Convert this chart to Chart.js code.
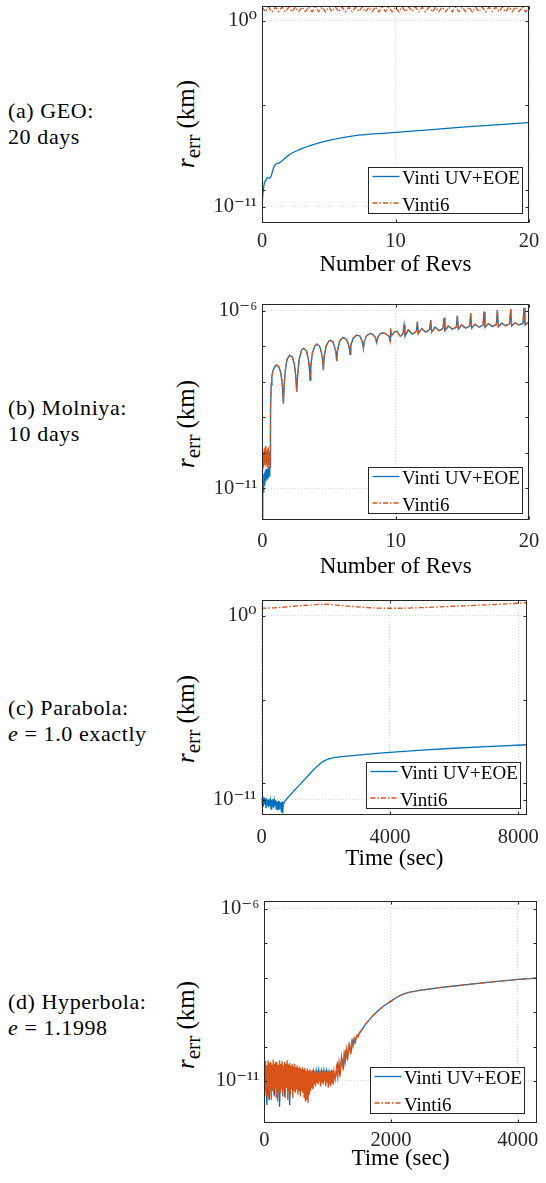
<!DOCTYPE html>
<html>
<head>
<meta charset="utf-8">
<title>Vinti position error</title>
<script src="https://cdn.jsdelivr.net/npm/chart.js@4.4.1/dist/chart.umd.min.js"></script>
<style>
  html, body { margin: 0; padding: 0; background: #fff; }
  body { position: relative; width: 546px; height: 1183px; overflow: hidden; font-family: "Liberation Serif", "DejaVu Serif", serif; }
  canvas { position: absolute; }
  .case { position: absolute; left: 8px; font-size: 22px; line-height: 25.5px; letter-spacing: 0.6px; color: #000; white-space: nowrap; }
  .ytitle { position: absolute; left: 186px; font-size: 25px; color: #000; white-space: nowrap; transform: translate(-50%, -50%) rotate(-90deg); }
  .ytitle sub { font-size: 85%; vertical-align: -0.3em; line-height: 0; }
</style>
</head>
<body>
<div class="case" style="top:98px">(a) GEO:<br>20 days</div>
<div class="case" style="top:395px">(b) Molniya:<br>10 days</div>
<div class="case" style="top:695px">(c) Parabola:<br><i>e</i> = 1.0 exactly</div>
<div class="case" style="top:989px">(d) Hyperbola:<br><i>e</i> = 1.1998</div>

<div class="ytitle" style="top:124px"><i>r</i><sub>err</sub> (km)</div>
<div class="ytitle" style="top:424px"><i>r</i><sub>err</sub> (km)</div>
<div class="ytitle" style="top:719px"><i>r</i><sub>err</sub> (km)</div>
<div class="ytitle" style="top:1025px"><i>r</i><sub>err</sub> (km)</div>

<canvas id="geoChart"></canvas>
<canvas id="molniyaChart"></canvas>
<canvas id="parabolaChart"></canvas>
<canvas id="hyperbolaChart"></canvas>

<script>
// errors are kept as log10(km)
const seriesLabels = ["Vinti UV+EOE", "Vinti6"];

const revTicks = [0, 10, 20];
const parabolaTimeTicks = [0, 4000, 8000];
const hyperbolaTimeTicks = [0, 2000, 4000];
const errTicksWide = [1e-11, 1e0];
const errTicksNarrow = [1e-11, 1e-6];
const errMarksWide = [1e-11, 1e-10, 1e-5, 1e0];
const errMarksNarrow = [1e-11, 1e-10, 1e-9, 1e-8, 1e-7, 1e-6];

// (a) GEO
const geoUvRevs = [0, 0.05, 0.17, 0.3, 0.42, 0.55, 0.67, 0.85, 1.0, 1.3, 1.7, 2.0, 2.6, 3.6, 4.85, 6.85, 10, 12.5, 15, 17.5, 20];
const geoUvExp = [-11.0, -10.4, -9.62, -9.42, -9.25, -9.32, -9.22, -8.73, -8.5, -8.4, -8.14, -7.94, -7.68, -7.38, -7.1, -6.8, -6.6, -6.45, -6.29, -6.15, -6.02];
const geoV6Revs = [0,
  0.02, 0.25, 0.5, 0.75, 1, 1.25, 1.5, 1.75, 2, 2.25,
  2.5, 2.75, 3, 3.25, 3.5, 3.75, 4, 4.25, 4.5, 4.75,
  5, 5.25, 5.5, 5.75, 6, 6.25, 6.5, 6.75, 7, 7.25,
  7.5, 7.75, 8, 8.25, 8.5, 8.75, 9, 9.25, 9.5, 9.75,
  10, 10.25, 10.5, 10.75, 11, 11.25, 11.5, 11.75, 12, 12.25,
  12.5, 12.75, 13, 13.25, 13.5, 13.75, 14, 14.25, 14.5, 14.75,
  15, 15.25, 15.5, 15.75, 16, 16.25, 16.5, 16.75, 17, 17.25,
  17.5, 17.75, 18, 18.25, 18.5, 18.75, 19, 19.25, 19.5, 19.75,
  20];
const geoV6Exp = [-11.0,
  0.8, 0.53, 0.81, 0.52, 0.8, 0.54, 0.81, 0.53, 0.8, 0.52,
  0.81, 0.53, 0.8, 0.54, 0.81, 0.52, 0.8, 0.53, 0.81, 0.52,
  0.8, 0.54, 0.81, 0.53, 0.8, 0.52, 0.81, 0.53, 0.8, 0.54,
  0.81, 0.52, 0.8, 0.53, 0.81, 0.52, 0.8, 0.54, 0.81, 0.53,
  0.8, 0.52, 0.81, 0.53, 0.8, 0.54, 0.81, 0.52, 0.8, 0.53,
  0.81, 0.52, 0.8, 0.54, 0.81, 0.53, 0.8, 0.52, 0.81, 0.53,
  0.8, 0.54, 0.81, 0.52, 0.8, 0.53, 0.81, 0.52, 0.8, 0.54,
  0.81, 0.53, 0.8, 0.52, 0.81, 0.53, 0.8, 0.54, 0.81, 0.52,
  0.8];

// (b) Molniya: noisy start differs, the rest is shared by both propagators
const molStartRevs = [0, 0.02, 0.05, 0.08, 0.11, 0.14, 0.17, 0.2, 0.23, 0.27, 0.3, 0.33, 0.36, 0.4, 0.43, 0.46, 0.5, 0.53, 0.56];
const molStartUvExp = [-12.5, -11.3, -10.8, -11.1, -10.6, -10.9, -10.55, -10.85, -10.5, -10.8, -10.45, -10.75, -10.5, -10.75, -10.45, -10.7, -10.4, -10.65, -10.45];
const molStartV6Exp = [-12.5, -10.2, -10.45, -10.0, -10.4, -9.9, -10.3, -9.85, -10.35, -9.8, -10.3, -9.95, -10.4, -9.9, -10.45, -9.85, -10.35, -9.95, -10.3];
const molTailRevs = [
  0.58, 0.6, 0.63, 0.67, 0.72, 0.8, 0.95, 1.08, 1.25, 1.4, 1.5, 1.58,
  1.64, 1.72, 1.85, 2.05, 2.25, 2.4, 2.5, 2.58,
  2.66, 2.78, 2.95, 3.1, 3.3, 3.45, 3.53, 3.58,
  3.64, 3.76, 3.95, 4.1, 4.3, 4.45, 4.53, 4.58,
  4.64, 4.78, 5.0, 5.1, 5.3, 5.45, 5.53, 5.58,
  5.64, 5.8, 6.05, 6.3, 6.45, 6.53, 6.58,
  6.64, 6.8, 7.08, 7.3, 7.45, 7.53, 7.58,
  7.65, 7.82, 8.08, 8.3, 8.47, 8.58,
  8.65, 8.85, 9.08, 9.3, 9.5, 9.58, 9.62, 9.68,
  9.9, 10.1, 10.35, 10.55, 10.63, 10.7,
  10.95, 11.25, 11.55, 11.63, 11.7,
  11.95, 12.25, 12.55, 12.63, 12.7,
  12.95, 13.25, 13.55, 13.63, 13.7,
  13.95, 14.25, 14.55, 14.63, 14.7,
  14.95, 15.25, 15.55, 15.63, 15.7,
  15.95, 16.25, 16.55, 16.63, 16.7,
  16.95, 17.25, 17.55, 17.63, 17.7,
  17.95, 18.25, 18.55, 18.63, 18.7,
  18.95, 19.25, 19.55, 19.63, 19.7,
  19.95, 20];
const molTailExp = [
  -10.4, -9.6, -8.7, -8.1, -7.85, -7.68, -7.56, -7.53, -7.58, -7.78, -8.05, -8.61,
  -8.1, -7.7, -7.38, -7.25, -7.3, -7.5, -7.8, -8.28,
  -7.75, -7.35, -7.1, -7.06, -7.12, -7.35, -7.6, -7.95,
  -7.55, -7.18, -6.98, -6.94, -7.0, -7.2, -7.4, -7.67,
  -7.3, -7.0, -6.85, -6.83, -6.88, -7.05, -7.2, -7.42,
  -7.12, -6.85, -6.75, -6.8, -6.93, -7.05, -7.23,
  -6.98, -6.78, -6.68, -6.71, -6.82, -6.92, -7.06,
  -6.86, -6.7, -6.64, -6.67, -6.75, -6.9,
  -6.76, -6.64, -6.62, -6.66, -6.72, -6.85, -6.5, -6.7,
  -6.6, -6.58, -6.72, -6.65, -6.4, -6.72,
  -6.54, -6.66, -6.58, -6.31, -6.65,
  -6.5, -6.6, -6.53, -6.26, -6.6,
  -6.46, -6.56, -6.5, -6.2, -6.56,
  -6.43, -6.52, -6.46, -6.14, -6.52,
  -6.4, -6.49, -6.43, -6.07, -6.49,
  -6.38, -6.46, -6.41, -6.03, -6.47,
  -6.36, -6.44, -6.39, -5.98, -6.45,
  -6.35, -6.42, -6.37, -5.95, -6.43,
  -6.34, -6.4, -6.35, -5.92, -6.4,
  -6.33, -6.35];

// (c) Parabola
const parUvTimes = [
  0, 20, 40, 60, 80, 100, 120, 140, 160, 180,
  200, 220, 240, 260, 280, 300, 320, 340, 360, 380,
  400, 420, 440, 460, 480, 500, 520, 540, 560, 580,
  600, 620, 640, 660, 680, 700,
  760, 850, 1000, 1150, 1300, 1450, 1600, 1750, 1900, 2000,
  2100, 2250, 2500, 3000, 3500, 4000, 5000, 6000, 7000, 8280];
const parUvExp = [
  -10.9, -11.3, -10.8, -11.4, -10.85, -11.25, -10.95, -11.5, -10.9, -11.3,
  -11.0, -11.45, -10.95, -11.35, -11.05, -11.55, -11.0, -11.4, -10.95, -11.5,
  -11.05, -11.35, -11.0, -11.55, -11.1, -11.4, -11.05, -11.6, -11.1, -11.5,
  -11.15, -11.75, -11.1, -11.8, -11.2, -11.15,
  -11.0, -10.8, -10.48, -10.17, -9.86, -9.55, -9.24, -8.95, -8.72, -8.62,
  -8.54, -8.47, -8.41, -8.32, -8.23, -8.15, -8.02, -7.91, -7.81, -7.7];
const parV6Times = [0, 500, 1000, 1500, 2000, 2500, 3000, 3500, 4000, 4500, 5000, 5500, 6000, 6500, 7000, 7500, 8000, 8280];
const parV6Exp = [0.46, 0.5, 0.58, 0.65, 0.7, 0.62, 0.54, 0.48, 0.46, 0.47, 0.5, 0.54, 0.58, 0.62, 0.66, 0.71, 0.76, 0.79];

// (d) Hyperbola: noisy part per propagator, smooth growth shared
const hypUvNoiseTimes = [
  0, 20, 40, 60, 80, 100, 120, 140, 160, 180,
  200, 220, 240, 260, 280, 300, 320, 340, 360, 380,
  400, 420, 440, 460, 480, 500, 520, 540, 560, 580,
  600, 620, 640, 660, 680, 700, 720, 740, 760, 780,
  800, 820, 840, 860, 880, 900, 920, 940, 960, 980,
  1000, 1020, 1040, 1060, 1080, 1100,
  1130, 1160, 1190, 1220, 1250, 1280, 1310, 1340, 1370, 1400, 1430, 1460, 1500];
const hypUvNoiseExp = [
  -11.0, -10.6, -11.7, -10.7, -11.55, -10.75, -11.1, -10.6, -11.45, -10.8,
  -11.2, -10.65, -11.75, -10.7, -11.1, -10.75, -11.45, -10.6, -11.2, -10.7,
  -11.7, -10.75, -11.15, -10.65, -11.1, -10.7, -11.2, -10.8, -11.3, -10.75,
  -11.15, -10.7, -11.25, -10.8, -11.3, -10.75, -11.2, -10.8, -11.0, -10.72,
  -11.0, -10.7, -10.95, -10.68, -10.95, -10.7, -10.9, -10.68, -10.95, -10.7,
  -10.9, -10.72, -11.0, -10.75, -11.0, -10.8,
  -10.85, -10.5, -10.8, -10.35, -10.6, -10.15, -10.35, -9.95, -10.15, -9.8, -9.9, -9.7, -9.62];
const hypV6NoiseTimes = [
  0, 10, 20, 30, 40, 50, 60, 70, 80, 90,
  100, 110, 120, 130, 140, 150, 160, 170, 180, 190,
  200, 210, 220, 230, 240, 250, 260, 270, 280, 290,
  300, 310, 320, 330, 340, 350, 360, 370, 380, 390,
  400, 410, 420, 430, 440, 450, 460, 470, 480, 490,
  500, 510, 520, 530, 540, 550, 560, 570, 580, 590,
  600, 610, 620, 630, 640, 650, 660, 670, 680, 690,
  700, 710, 720, 730, 740, 750, 760, 770, 780, 790,
  800, 810, 820, 830, 840, 850, 860, 870, 880, 890,
  900, 910, 920, 930, 940, 950, 960, 970, 980, 990,
  1000, 1010, 1020, 1030, 1040, 1050, 1060, 1070, 1080, 1090, 1100,
  1120, 1140, 1160, 1180, 1200, 1220, 1240, 1260, 1280, 1300,
  1320, 1340, 1360, 1380, 1400, 1420, 1440, 1460, 1480, 1500];
const hypV6NoiseExp = [
  -10.5, -11.3, -10.42, -11.45, -10.55, -11.2, -10.4, -11.5, -10.48, -11.25,
  -10.45, -11.55, -10.52, -11.3, -10.38, -11.4, -10.5, -11.2, -10.44, -11.5,
  -10.46, -11.6, -10.53, -11.3, -10.4, -11.35, -10.5, -11.25, -10.42, -11.45,
  -10.55, -11.3, -10.45, -11.5, -10.5, -11.2, -10.4, -11.55, -10.52, -11.3,
  -10.48, -11.4, -10.55, -11.25, -10.5, -11.5, -10.58, -11.3, -10.5, -11.35,
  -10.6, -11.25, -10.55, -11.4, -10.62, -11.3, -10.58, -11.45, -10.65, -11.3,
  -10.6, -11.35, -10.66, -11.5, -10.62, -11.6, -10.7, -11.55, -10.64, -11.65,
  -10.7, -11.4, -10.66, -11.3, -10.72, -11.2, -10.68, -11.25, -10.74, -11.1,
  -10.7, -11.15, -10.76, -11.05, -10.7, -11.1, -10.75, -11.0, -10.7, -11.15,
  -10.74, -11.05, -10.7, -11.1, -10.76, -11.0, -10.7, -11.15, -10.74, -11.05,
  -10.7, -11.2, -10.75, -11.1, -10.7, -11.15, -10.74, -11.05, -10.7, -11.1, -10.72,
  -10.95, -10.6, -10.9, -10.45, -10.75, -10.3, -10.6, -10.2, -10.45, -10.05,
  -10.3, -9.95, -10.15, -9.85, -10.0, -9.75, -9.85, -9.68, -9.72, -9.6];
const hypTailTimes = [1600, 1700, 1800, 1900, 2000, 2100, 2200, 2300, 2450, 2600, 2800, 3000, 3300, 3600, 4000, 4300];
const hypTailExp = [-9.35, -9.13, -8.95, -8.8, -8.68, -8.56, -8.47, -8.42, -8.37, -8.33, -8.28, -8.24, -8.18, -8.12, -8.05, -8.01];

const UV_COLOR = "#0072BD";
const V6_COLOR = "#D95319";
const V6_DASH = [5, 2, 1.5, 2];
const SERIF = "'Liberation Serif', 'DejaVu Serif', serif";
const CANVAS_LEFT = 170;
const CANVAS_WIDTH = 390;

Chart.defaults.font.family = SERIF;
Chart.defaults.color = "#262626";

const toPoints = (xs, exps) => xs.map((x, i) => ({ x: x, y: Math.pow(10, exps[i]) }));

const SUPERSCRIPT = { "0": "⁰", "1": "¹", "2": "²", "3": "³", "4": "⁴", "5": "⁵", "6": "⁶", "7": "⁷", "8": "⁸", "9": "⁹", "-": "⁻" };
function powerLabel(value) {
  const exponent = String(Math.round(Math.log10(value)));
  return "10" + exponent.split("").map((c) => SUPERSCRIPT[c]).join("");
}

// MATLAB style box: inward ticks, full frame and a framed legend in the corner
const axesBox = {
  id: "axesBox",
  afterDatasetsDraw(chart, args, opts) {
    const { ctx, chartArea: a, scales } = chart;
    const left = Math.round(a.left) + 0.5;
    const right = Math.round(a.right) - 0.5;
    const top = Math.round(a.top) + 0.5;
    const bottom = Math.round(a.bottom) - 0.5;
    ctx.save();
    ctx.strokeStyle = "#262626";
    ctx.lineWidth = 1;
    ctx.setLineDash([]);
    ctx.beginPath();
    opts.xMarks.forEach((v) => {
      const px = Math.round(scales.x.getPixelForValue(v)) + 0.5;
      ctx.moveTo(px, bottom);
      ctx.lineTo(px, bottom - 3);
      ctx.moveTo(px, top);
      ctx.lineTo(px, top + 3);
    });
    opts.yMarks.forEach((v) => {
      const py = Math.round(scales.y.getPixelForValue(v)) + 0.5;
      ctx.moveTo(left, py);
      ctx.lineTo(left + 3, py);
      ctx.moveTo(right, py);
      ctx.lineTo(right - 3, py);
    });
    ctx.stroke();
    ctx.strokeRect(left, top, right - left, bottom - top);

    // legend
    const w = 154;
    const h = 46;
    const x0 = Math.round(a.right - opts.legendRight - w) + 0.5;
    const y0 = Math.round(a.bottom - opts.legendBottom - h) + 0.5;
    ctx.fillStyle = "#fff";
    ctx.fillRect(x0, y0, w, h);
    ctx.strokeStyle = "#262626";
    ctx.strokeRect(x0, y0, w, h);
    ctx.font = "19px " + SERIF;
    ctx.textBaseline = "alphabetic";
    ctx.textAlign = "left";
    chart.data.datasets.forEach((ds, i) => {
      const ly = y0 + 9 + i * 26.5;
      ctx.beginPath();
      ctx.strokeStyle = ds.borderColor;
      ctx.lineWidth = 1.3;
      ctx.setLineDash(ds.borderDash || []);
      ctx.moveTo(x0 + 4, ly);
      ctx.lineTo(x0 + 31, ly);
      ctx.stroke();
      ctx.setLineDash([]);
      ctx.fillStyle = "#000";
      ctx.fillText(ds.label, x0 + 33.5, ly + 7.5);
    });
    ctx.restore();
  },
};

const panels = [
  {
    canvasId: "geoChart",
    plot: { left: 262, right: 529, top: 5.5, bottom: 223 },
    xMax: 20, xTicks: revTicks, xTitle: "Number of Revs", xTickPad: 6.5, titleMid: 265.5,
    yMin: 1.12e-12, yMax: 7.94, yTicks: errTicksWide, yMarks: errMarksWide,
    legend: { right: 7, bottom: 10 },
    uv: toPoints(geoUvRevs, geoUvExp), v6: toPoints(geoV6Revs, geoV6Exp),
    smoothUv: true, smoothV6: false, denseUntil: -1,
  },
  {
    canvasId: "molniyaChart",
    plot: { left: 262.3, right: 529, top: 304, bottom: 520 },
    xMax: 20, xTicks: revTicks, xTitle: "Number of Revs", xTickPad: 9.5, titleMid: 567.5,
    yMin: 1.29e-12, yMax: 1.55e-6, yTicks: errTicksNarrow, yMarks: errMarksNarrow,
    legend: { right: 7, bottom: 7.3 },
    uv: toPoints(molStartRevs.concat(molTailRevs), molStartUvExp.concat(molTailExp)),
    v6: toPoints(molStartRevs.concat(molTailRevs), molStartV6Exp.concat(molTailExp)),
    smoothUv: false, smoothV6: false, denseUntil: 0.56,
  },
  {
    canvasId: "parabolaChart",
    plot: { left: 261.5, right: 527.3, top: 600, bottom: 815 },
    xMax: 8280, xTicks: parabolaTimeTicks, xTitle: "Time (sec)", xTickPad: 10, titleMid: 859.3,
    yMin: 1.26e-12, yMax: 9.0, yTicks: errTicksWide, yMarks: errMarksWide,
    legend: { right: 7.3, bottom: 6.7 },
    uv: toPoints(parUvTimes, parUvExp), v6: toPoints(parV6Times, parV6Exp),
    smoothUv: false, smoothV6: true, denseUntil: -1,
  },
  {
    canvasId: "hyperbolaChart",
    plot: { left: 264.3, right: 536.7, top: 901, bottom: 1123 },
    xMax: 4300, xTicks: hyperbolaTimeTicks, xTitle: "Time (sec)", xTickPad: 5.5, titleMid: 1159.3,
    yMin: 6.0e-13, yMax: 1.7e-6, yTicks: errTicksNarrow, yMarks: errMarksNarrow,
    legend: { right: 12.7, bottom: 9.7 },
    uv: toPoints(hypUvNoiseTimes.concat(hypTailTimes), hypUvNoiseExp.concat(hypTailExp)),
    v6: toPoints(hypV6NoiseTimes.concat(hypTailTimes), hypV6NoiseExp.concat(hypTailExp)),
    smoothUv: false, smoothV6: false, denseUntil: 1500,
  },
];

function makePanel(p) {
  const canvas = document.getElementById(p.canvasId);
  const canvasTop = Math.floor(p.plot.top) - 20;
  const canvasBottom = Math.round(p.titleMid + 13.8);
  canvas.width = CANVAS_WIDTH;
  canvas.height = canvasBottom - canvasTop;
  canvas.style.left = CANVAS_LEFT + "px";
  canvas.style.top = canvasTop + "px";
  canvas.style.width = CANVAS_WIDTH + "px";
  canvas.style.height = canvas.height + "px";

  const xAxisHeight = canvasBottom - p.plot.bottom;
  const yAxisWidth = p.plot.left - CANVAS_LEFT;
  const gridStyle = { color: "#d6d6d6", lineWidth: 1, drawTicks: false };
  const gridBorder = { display: false, dash: [1, 2] };

  return new Chart(canvas, {
    type: "line",
    data: {
      datasets: [
        {
          label: seriesLabels[0],
          data: p.uv,
          borderColor: UV_COLOR,
          borderWidth: 1.3,
          pointRadius: 0,
          fill: false,
          tension: 0,
          cubicInterpolationMode: p.smoothUv ? "monotone" : "default",
          order: 1,
        },
        {
          label: seriesLabels[1],
          data: p.v6,
          borderColor: V6_COLOR,
          borderDash: V6_DASH,
          borderWidth: 1.3,
          pointRadius: 0,
          fill: false,
          tension: 0,
          cubicInterpolationMode: p.smoothV6 ? "monotone" : "default",
          // the dash pattern is lost in the dense noise, it reads as a solid band
          segment: {
            borderDash: (ctx) => (ctx.p1.parsed.x <= p.denseUntil ? [] : undefined),
          },
          order: 0,
        },
      ],
    },
    options: {
      responsive: false,
      animation: false,
      devicePixelRatio: 1,
      layout: {
        padding: { top: p.plot.top - canvasTop, right: CANVAS_LEFT + CANVAS_WIDTH - p.plot.right, left: 0, bottom: 0 },
      },
      plugins: {
        legend: { display: false },
        tooltip: { enabled: false },
        axesBox: { xMarks: p.xTicks, yMarks: p.yMarks, legendRight: p.legend.right, legendBottom: p.legend.bottom },
      },
      scales: {
        x: {
          type: "linear",
          bounds: "data",
          min: 0,
          max: p.xMax,
          afterBuildTicks: (s) => { s.ticks = p.xTicks.map((v) => ({ value: v })); },
          afterFit: (s) => { s.height = xAxisHeight; },
          ticks: { font: { size: 20.5 }, padding: p.xTickPad, maxRotation: 0, autoSkip: false, callback: (v) => String(v) },
          grid: gridStyle,
          border: gridBorder,
          title: { display: true, text: p.xTitle, font: { size: 23 }, color: "#000", padding: 0 },
        },
        y: {
          type: "logarithmic",
          bounds: "data",
          min: p.yMin,
          max: p.yMax,
          afterBuildTicks: (s) => { s.ticks = p.yTicks.map((v) => ({ value: v })); },
          afterFit: (s) => { s.width = yAxisWidth; },
          ticks: { font: { size: 20.5 }, padding: 5, autoSkip: false, callback: (v) => powerLabel(v) },
          grid: gridStyle,
          border: gridBorder,
        },
      },
    },
    plugins: [axesBox],
  });
}

panels.forEach(makePanel);
</script>
</body>
</html>
